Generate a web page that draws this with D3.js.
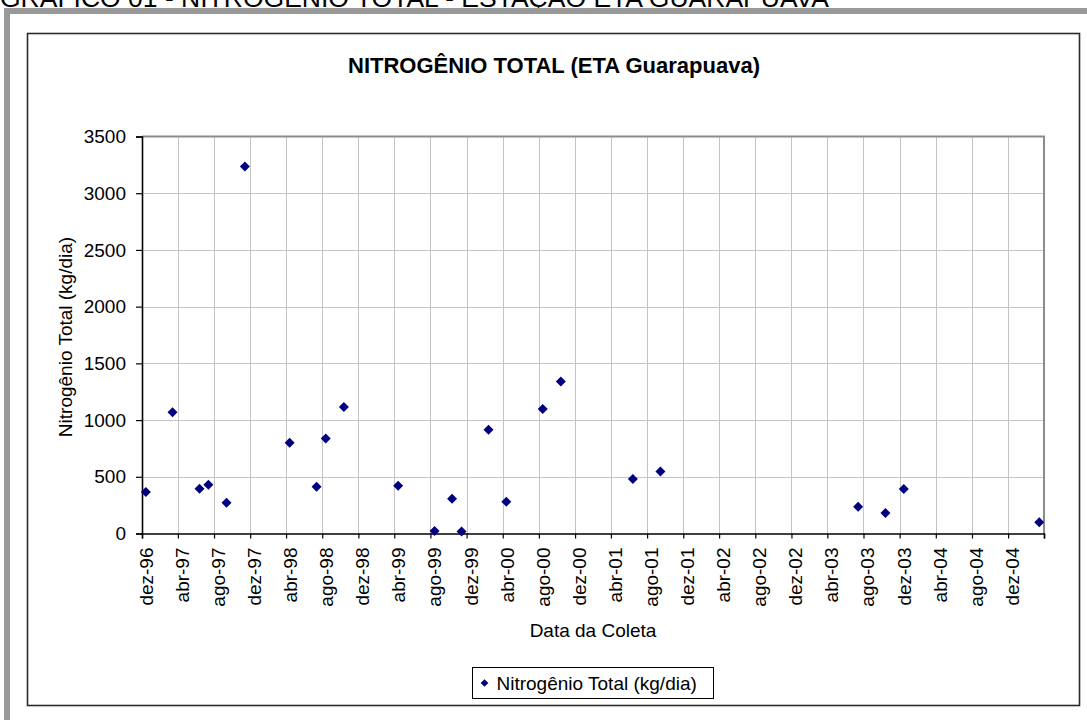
<!DOCTYPE html>
<html>
<head>
<meta charset="utf-8">
<script src="https://cdn.jsdelivr.net/npm/d3@7"></script>
<style>
  html, body { margin: 0; padding: 0; background: #fff; }
  svg { display: block; font-family: "Liberation Sans", Arial, sans-serif; }
</style>
</head>
<body>
<svg id="chart" width="1087" height="720"></svg>
<script>
// Collection dates (ISO) and total nitrogen load (kg/dia)
const collectionDates = [
  "1996-12-14", "1997-03-14", "1997-06-13", "1997-07-13", "1997-09-12", "1997-11-13",
  "1998-04-13", "1998-07-13", "1998-08-13", "1998-10-13", "1999-04-14", "1999-08-15",
  "1999-10-13", "1999-11-14", "2000-02-13", "2000-04-13", "2000-08-14", "2000-10-14",
  "2001-06-14", "2001-09-15", "2003-07-14", "2003-10-14", "2003-12-15", "2005-03-16"
];
const nitrogenValues = [
  365, 1070, 395, 430, 270, 3235,
  800, 412, 838, 1115, 420, 22,
  306, 18, 915, 280, 1097, 1340,
  480, 547, 235, 180, 392, 100
];
// Axis extents and tick values
const dateDomain = ["1996-12-01", "2005-04-01"];
const monthStep = 4;
const yTickValues = [0, 500, 1000, 1500, 2000, 2500, 3000, 3500];
const monthsShort = ["jan", "fev", "mar", "abr", "mai", "jun", "jul", "ago", "set", "out", "nov", "dez"];

const captionText = "GRÁFICO 01 - NITROGÊNIO TOTAL - ESTAÇÃO ETA GUARAPUAVA";
const titleText = "NITROGÊNIO TOTAL (ETA Guarapuava)";
const yTitle = "Nitrogênio Total (kg/dia)";
const xTitle = "Data da Coleta";
const seriesName = "Nitrogênio Total (kg/dia)";

const svg = d3.select("#chart");
const parse = d3.utcParse("%Y-%m-%d");

const locale = d3.timeFormatLocale({
  dateTime: "%d/%m/%Y %H:%M:%S", date: "%d/%m/%Y", time: "%H:%M:%S",
  periods: ["AM", "PM"],
  days: ["domingo", "segunda", "terça", "quarta", "quinta", "sexta", "sábado"],
  shortDays: ["dom", "seg", "ter", "qua", "qui", "sex", "sáb"],
  months: ["janeiro", "fevereiro", "março", "abril", "maio", "junho", "julho", "agosto", "setembro", "outubro", "novembro", "dezembro"],
  shortMonths: monthsShort
});
const fmtMonth = locale.utcFormat("%b-%y");

// Page background, caption and outer frame
svg.append("rect").attr("width", 1087).attr("height", 720).attr("fill", "#fff");
svg.append("text")
  .attr("x", 0).attr("y", 7)
  .attr("font-size", 26.5)
  .attr("fill", "#000")
  .text(captionText);
svg.append("rect").attr("x", 4).attr("y", 8).attr("width", 1100).attr("height", 730).attr("fill", "#999");
svg.append("rect").attr("x", 10).attr("y", 14).attr("width", 1100).attr("height", 730).attr("fill", "#fff");

// Chart area border
svg.append("rect")
  .attr("x", 27.5).attr("y", 33.5).attr("width", 1052).attr("height", 672)
  .attr("fill", "#fff").attr("stroke", "#2b2b2b").attr("stroke-width", 1.6);

// Plot area
const plot = { left: 142, right: 1044, top: 136.5, bottom: 533.5 };

const x = d3.scaleUtc()
  .domain(dateDomain.map(parse))
  .range([plot.left, plot.right]);
const y = d3.scaleLinear()
  .domain([0, 3500])
  .range([plot.bottom, plot.top]);

// Major ticks every four months, starting at the first month of the domain
const xTicks = d3.utcMonth.range(parse(dateDomain[0]), d3.utcDay.offset(parse(dateDomain[1]), 1), monthStep);

// Gridlines
const grid = svg.append("g").attr("stroke", "#c4c4c4").attr("stroke-width", 1);
grid.selectAll("line.h").data(yTickValues.filter(v => v > 0 && v < 3500)).join("line")
  .attr("x1", plot.left).attr("x2", plot.right)
  .attr("y1", d => Math.round(y(d)) + 0.5).attr("y2", d => Math.round(y(d)) + 0.5);
grid.selectAll("line.v").data(xTicks.slice(1, -1)).join("line")
  .attr("x1", d => Math.round(x(d)) + 0.5).attr("x2", d => Math.round(x(d)) + 0.5)
  .attr("y1", plot.top).attr("y2", plot.bottom);

// Plot area frame (top and right)
svg.append("path")
  .attr("d", `M${plot.left},${plot.top} H${plot.right} V${plot.bottom}`)
  .attr("fill", "none").attr("stroke", "#8c8c8c").attr("stroke-width", 2);

// Y axis
const yAxis = svg.append("g")
  .attr("transform", `translate(${plot.left},0)`)
  .call(d3.axisLeft(y).tickValues(yTickValues).tickSize(6).tickPadding(10).tickFormat(d3.format("d")));
yAxis.select(".domain").attr("stroke", "#000").attr("stroke-width", 1.6);
yAxis.selectAll(".tick line").attr("stroke", "#000").attr("stroke-width", 1.2);
yAxis.selectAll(".tick text")
  .attr("font-size", 19).attr("fill", "#000")
  .attr("font-family", "'Liberation Sans', Arial, sans-serif");

// X axis (last tick at the right edge carries no label)
const xAxis = svg.append("g")
  .attr("transform", `translate(0,${plot.bottom})`)
  .call(d3.axisBottom(x).tickValues(xTicks).tickSize(5).tickFormat((d, i) => i === xTicks.length - 1 ? "" : fmtMonth(d)));
xAxis.select(".domain").attr("stroke", "#000").attr("stroke-width", 1.6);
xAxis.selectAll(".tick line").attr("stroke", "#000").attr("stroke-width", 1.2);
xAxis.selectAll(".tick text")
  .attr("font-size", 19).attr("fill", "#000")
  .attr("font-family", "'Liberation Sans', Arial, sans-serif")
  .attr("text-anchor", "end")
  .attr("x", 0).attr("y", 0).attr("dy", 0)
  .attr("transform", "translate(10.5,14) rotate(-90)");

// Data points
const points = collectionDates.map((d, i) => ({ date: parse(d), value: nitrogenValues[i] }));
const diamond = d3.symbol().type(d3.symbolSquare).size(50);
svg.append("g").selectAll("path").data(points).join("path")
  .attr("d", diamond)
  .attr("transform", d => `translate(${x(d.date)},${y(d.value)}) rotate(45)`)
  .attr("fill", "#000080");

// Titles
svg.append("text")
  .attr("x", 554).attr("y", 72.5)
  .attr("text-anchor", "middle")
  .attr("font-size", 22).attr("font-weight", "bold")
  .text(titleText);
svg.append("text")
  .attr("transform", "translate(72,337) rotate(-90)")
  .attr("text-anchor", "middle")
  .attr("font-size", 19)
  .text(yTitle);
svg.append("text")
  .attr("x", (plot.left + plot.right) / 2).attr("y", 636.5)
  .attr("text-anchor", "middle")
  .attr("font-size", 19)
  .text(xTitle);

// Legend
const legend = svg.append("g").attr("transform", "translate(472.5,667.5)");
legend.append("rect")
  .attr("width", 241).attr("height", 31)
  .attr("fill", "#fff").attr("stroke", "#000").attr("stroke-width", 1);
legend.append("path")
  .attr("d", d3.symbol().type(d3.symbolSquare).size(30)())
  .attr("transform", "translate(12,15.5) rotate(45)")
  .attr("fill", "#000080");
legend.append("text")
  .attr("x", 24).attr("y", 22)
  .attr("font-size", 19)
  .text(seriesName);
</script>
</body>
</html>
